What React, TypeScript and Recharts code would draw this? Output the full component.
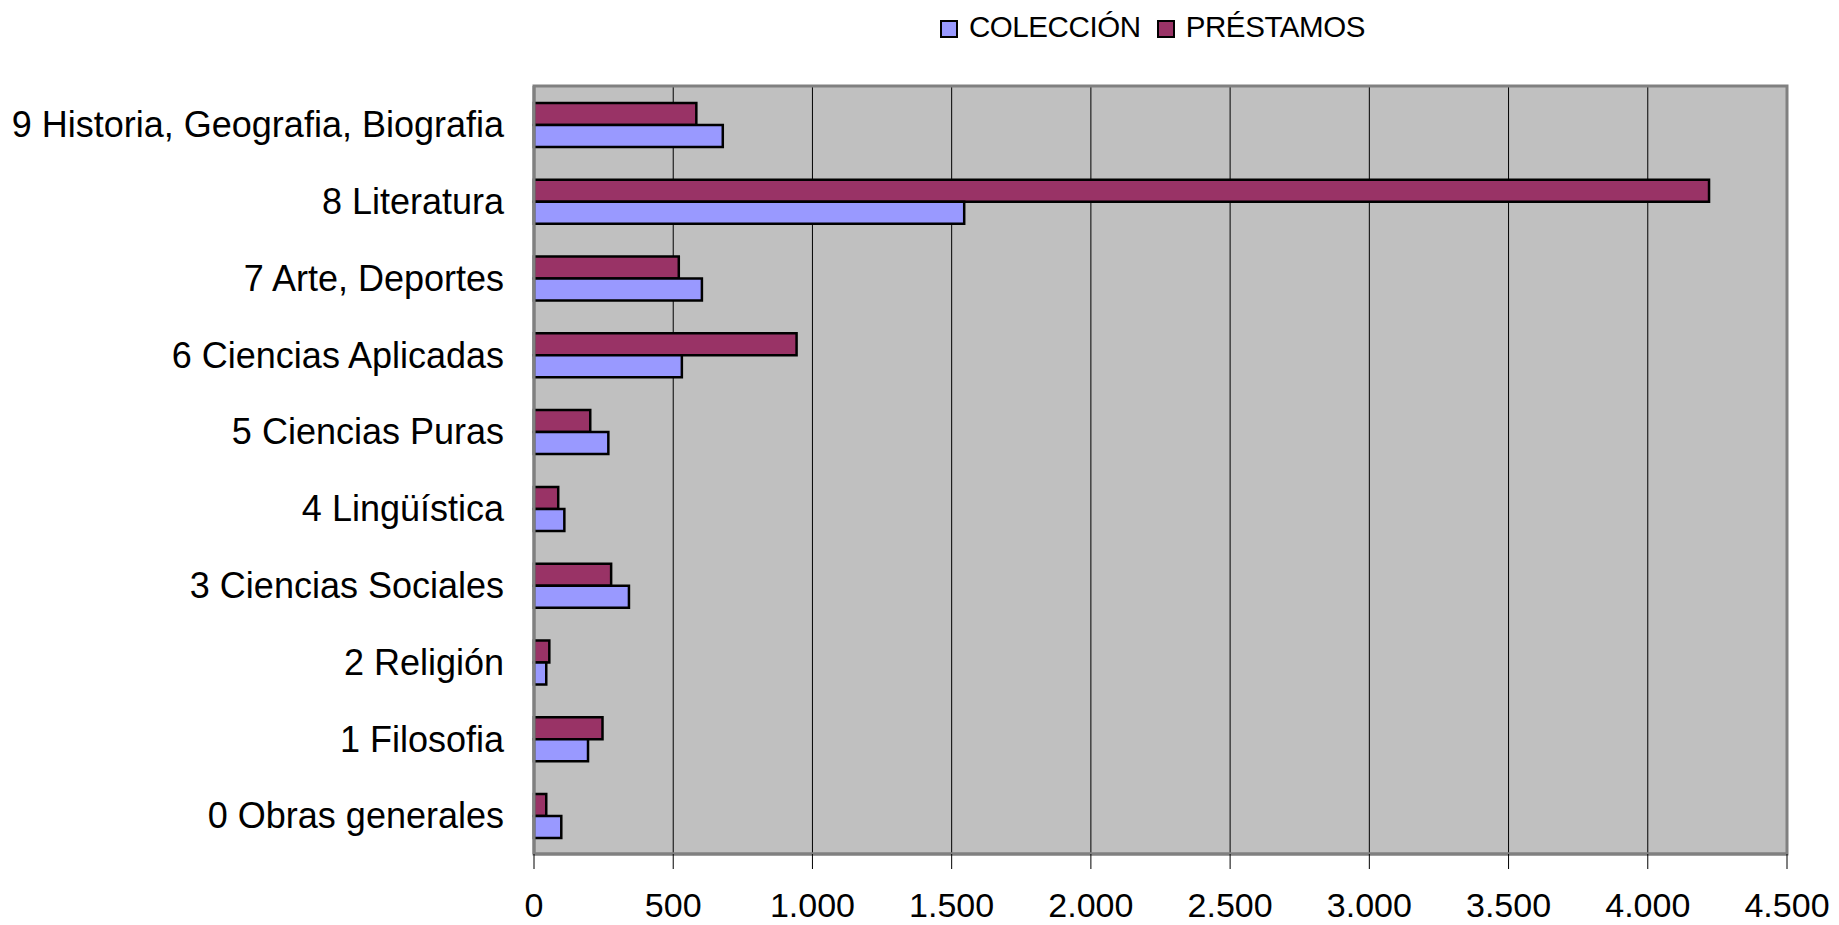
import React from "react";
import {
  Bar,
  BarChart,
  CartesianGrid,
  Legend,
  ReferenceArea,
  XAxis,
  YAxis,
} from "recharts";

const categories = [
  "9 Historia, Geografia, Biografia",
  "8 Literatura",
  "7 Arte, Deportes",
  "6 Ciencias Aplicadas",
  "5 Ciencias Puras",
  "4 Lingüística",
  "3 Ciencias Sociales",
  "2 Religión",
  "1 Filosofia",
  "0 Obras generales",
];
const prestamos = [583, 4220, 520, 943, 202, 87, 277, 55, 246, 44];
const coleccion = [678, 1545, 603, 531, 267, 109, 341, 44, 194, 98];
const xTicks = [0, 500, 1000, 1500, 2000, 2500, 3000, 3500, 4000, 4500];

const legendItems = [
  { name: "COLECCIÓN", color: "#9999FF" },
  { name: "PRÉSTAMOS", color: "#993366" },
];

const data = categories.map((name, i) => ({
  name,
  prestamos: prestamos[i],
  coleccion: coleccion[i],
}));

const FONT = "'Liberation Sans', Arial, sans-serif";

// 1000 -> "1.000"
const fmt = (v: number) => String(v).replace(/\B(?=(\d{3})+(?!\d))/g, ".");

const renderLegend = () => (
  <div
    style={{
      display: "flex",
      justifyContent: "center",
      alignItems: "center",
      fontFamily: FONT,
      fontSize: 29.5,
      letterSpacing: -0.4,
      color: "#000",
    }}
  >
    {legendItems.map((it) => (
      <div key={it.name} style={{ display: "flex", alignItems: "center", marginRight: 16 }}>
        <span
          style={{
            display: "inline-block",
            width: 14,
            height: 14,
            background: it.color,
            border: "2.5px solid #000",
            marginRight: 11,
            marginTop: 4,
          }}
        />
        <span>{it.name}</span>
      </div>
    ))}
  </div>
);

export default function App() {
  return (
    <div style={{ width: 1823, height: 917 }}>
      {/* drop the bottom body margin so the tick labels fit in the 925px window */}
      <style>{`body { margin: 8px 8px 0 8px; }`}</style>
      <BarChart
        width={1823}
        height={917}
        data={data}
        layout="vertical"
        margin={{ top: 78, right: 44, bottom: 8, left: 0 }}
        barCategoryGap="22%"
        barGap={0}
      >
        <CartesianGrid
          horizontal={false}
          fill="#C0C0C0"
          fillOpacity={1}
          stroke="#000"
          strokeWidth={1}
        />
        <XAxis
          type="number"
          domain={[0, 4500]}
          ticks={xTicks}
          tickFormatter={fmt}
          axisLine={{ stroke: "#808080", strokeWidth: 3 }}
          tickLine={{ stroke: "#000" }}
          tickSize={15}
          tickMargin={24}
          height={63}
          tick={{ fontSize: 34, fill: "#000", fontFamily: FONT }}
        />
        <YAxis
          type="category"
          dataKey="name"
          width={526}
          axisLine={{ stroke: "#808080", strokeWidth: 3 }}
          tickLine={false}
          tickSize={0}
          tickMargin={30}
          interval={0}
          tick={{ fontSize: 36, fill: "#000", fontFamily: FONT }}
        />
        <ReferenceArea
          x1={0}
          x2={4500}
          fill="none"
          stroke="#808080"
          strokeWidth={3}
          ifOverflow="visible"
        />
        <Legend
          layout="horizontal"
          verticalAlign="middle"
          align="center"
          wrapperStyle={{ top: 2, left: 526, width: 1253 }}
          content={renderLegend}
        />
        <Bar
          dataKey="prestamos"
          name="PRÉSTAMOS"
          fill="#993366"
          stroke="#000"
          strokeWidth={2.5}
          isAnimationActive={false}
        />
        <Bar
          dataKey="coleccion"
          name="COLECCIÓN"
          fill="#9999FF"
          stroke="#000"
          strokeWidth={2.5}
          isAnimationActive={false}
        />
      </BarChart>
    </div>
  );
}
